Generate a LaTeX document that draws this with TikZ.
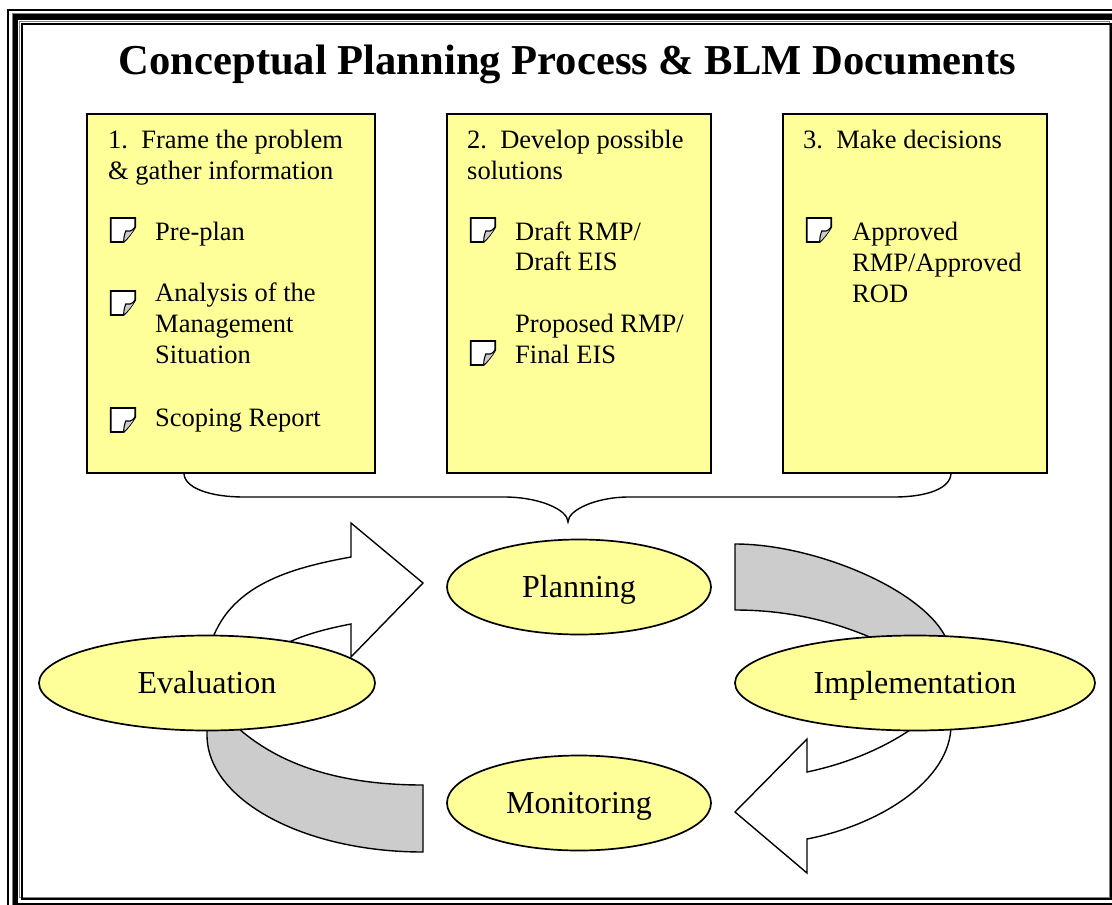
\documentclass[tikz,border=0pt]{standalone}
\usepackage{fontspec}
\setmainfont{Liberation Serif}
\usetikzlibrary{shapes.geometric}
\definecolor{paleyellow}{HTML}{FFFF99}
\definecolor{foldgray}{HTML}{CCCCCC}
\tikzset{
  x=1pt,y=-1pt,
  panel/.style={draw=black,line width=2.2pt,fill=paleyellow,minimum height=359pt,anchor=north west,inner sep=0pt},
  txt/.style={inner sep=0pt,anchor=base west,align=left,font=\fontsize{26.5}{30.7}\selectfont},
  stage/.style={ellipse,draw=black,line width=1.7pt,fill=paleyellow,inner sep=0pt,minimum height=95pt,text height=24pt,text depth=4pt,font=\fontsize{32}{36}\selectfont},
  bigarrow/.style={draw=black,line width=1.4pt,line join=miter},
  docicon/.pic={
    \draw[line width=1.8pt,fill=white,line join=miter] (0,0) -- (24.5,0) -- (24.5,9) .. controls (21,15) and (17,20) .. (13,24) -- (0,24) -- cycle;
    \fill[foldgray] (13,23.5) .. controls (13,19) and (14,16) .. (15,13) .. controls (18,14) and (21,13) .. (24,10) .. controls (21,15) and (17,20) .. (13,23.5) -- cycle;
    \draw[line width=1.1pt] (13,23.5) .. controls (13,19) and (14,16) .. (15,13) .. controls (18,14) and (21,13) .. (24,10);
  }
}
\begin{document}
\begin{tikzpicture}
\useasboundingbox (0,0) rectangle (1112,905);
\fill[white] (0,0) rectangle (1112,905);
% triple border
\draw[line width=2pt] (8,10) rectangle (1130,925);
\draw[line width=1pt,draw=gray] (12,13) rectangle (1130,925);
\draw[line width=5.5pt] (15.5,17) rectangle (1130,906);
\draw[line width=1pt,draw=gray] (19.5,21.5) rectangle (1109.5,897.5);
\draw[line width=2pt] (21.5,24) rectangle (1111,899);
% title
\node[inner sep=0pt,anchor=base,font=\fontsize{42.6}{48}\selectfont\bfseries] (title) at (567.5,74) {Conceptual Planning Process \& BLM Documents};
% panels
\node[panel,minimum width=288pt] (p1) at (86,113) {};
\node[panel,minimum width=264pt] (p2) at (446,113) {};
\node[panel,minimum width=264pt] (p3) at (782,113) {};
% panel texts
\node[txt] (h1) at (108,179) {1.\ \ Frame the problem\\\& gather information};
\node[txt] (h2) at (467,179) {2.\ \ Develop possible\\solutions};
\node[txt] (h3) at (803,148) {3.\ \ Make decisions};
\pic at (110.7,218) {docicon};
\node[txt] (a1) at (155,240) {Pre-plan};
\pic at (110.7,291) {docicon};
\node[txt] (a2) at (155,363) {Analysis of the\\Management\\Situation};
\pic at (110.7,408) {docicon};
\node[txt] (a3) at (155,426) {Scoping Report};
\pic at (470.7,218) {docicon};
\node[txt] (b1) at (515,270.7) {Draft RMP/\\Draft EIS};
\pic at (470.7,341) {docicon};
\node[txt] (b2) at (515,363) {Proposed RMP/\\Final EIS};
\pic at (806.7,218) {docicon};
\node[txt] (c1) at (852,302) {Approved\\RMP/Approved\\ROD};
% brace
\coordinate (braceL) at (184,473);
\coordinate (braceR) at (951,473);
\coordinate (braceTip) at (568,522);
\draw[line width=1.4pt] (braceL) .. controls (184,488) and (210,497) .. (244,497) -- (504,497) .. controls (540,497) and (568,510) .. (braceTip) .. controls (568,510) and (596,497) .. (629,497) -- (894,497) .. controls (928,497) and (951,488) .. (braceR);
% arrows
\draw[bigarrow,fill=white] (212,640) .. controls (232,585) and (290,568) .. (351,557) -- (351,523) -- (423,583) -- (351,657) -- (351,624) .. controls (330,628) and (305,634) .. (285,644) -- (240,680) -- cycle;
\draw[bigarrow,fill=foldgray] (735,544) .. controls (815,544) and (925,590) .. (947,640) -- (880,660) -- (872,638) .. controls (830,620) and (785,610) .. (735,610) -- cycle;
\draw[bigarrow,fill=white] (951,725) .. controls (951,780) and (880,825) .. (807,839) -- (807,873) -- (735,812) -- (807,739) -- (807,772) .. controls (845,764) and (880,750) .. (910,730) -- (930,700) -- cycle;
\draw[bigarrow,fill=foldgray] (207,725) -- (207,735) .. controls (207,800) and (304,852) .. (423,852) -- (423,785) .. controls (340,785) and (280,765) .. (238,728) -- cycle;
% stages
\node[stage,minimum width=264pt] (planning) at (579,587) {Planning};
\node[stage,minimum width=336pt] (evaluation) at (207,683) {Evaluation};
\node[stage,minimum width=360pt] (implementation) at (915,683) {Implementation};
\node[stage,minimum width=264pt] (monitoring) at (579,803) {Monitoring};
\end{tikzpicture}
\end{document}
